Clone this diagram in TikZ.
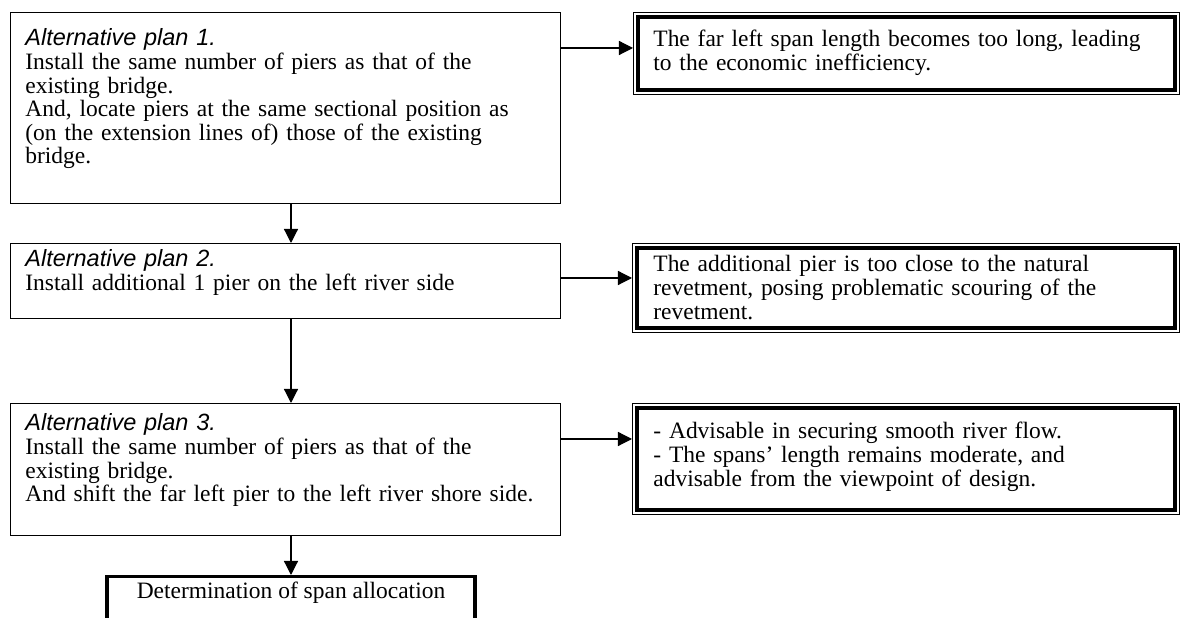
\documentclass[tikz,border=0pt]{standalone}
\usepackage{fontspec}
\setmainfont{Liberation Serif}
\newfontfamily\plansf{Liberation Sans}
\usetikzlibrary{arrows.meta}

\begin{document}
\begin{tikzpicture}[x=0.494pt,y=-0.494pt,line join=miter,>={Triangle[length=7pt,width=7pt]},
  every node/.style={inner sep=0pt,font=\fontsize{11.6pt}{11.65pt}\selectfont},
  planbox/.style={draw,line width=0.6pt,anchor=north west},
  resbox/.style={draw,line width=0.5pt,anchor=north west},
  body/.style={anchor=base west,align=left,text width=#1}]
  \def\u{0.494pt}
  \useasboundingbox (0,0) rectangle (1180,618);
  \clip (0,0) rectangle (1180,618);
  \node[planbox,minimum width={550*\u},minimum height={191*\u}] (p1) at (10,12) {};
  \node[planbox,minimum width={550*\u},minimum height={75*\u}] (p2) at (10,243) {};
  \node[planbox,minimum width={550*\u},minimum height={132*\u}] (p3) at (10,403) {};
  \node[resbox,minimum width={546*\u},minimum height={82*\u}] (rA) at (633,12) {};
  \node[resbox,minimum width={547*\u},minimum height={89*\u}] (rB) at (632,243) {};
  \node[resbox,minimum width={547*\u},minimum height={111*\u}] (rC) at (632,403) {};
  \foreach \r in {rA,rB,rC}
    \draw[line width=1.98pt] ([shift={(5,5)}]\r.north west) rectangle ([shift={(-5,-5)}]\r.south east);
  \node[draw,line width=1.5pt,anchor=north,minimum width={368*\u},text height=9pt,text depth=30pt,inner ysep=1.9pt] (d) at (291,575) {Determination of span allocation};
  \node[body=264pt] (t1) at (25,46) {{\plansf\itshape Alternative plan 1.}\\
    Install the same number of piers as that of the\\
    existing bridge.\\
    And, locate piers at the same sectional position as\\
    (on the extension lines of) those of the existing\\
    bridge.};
  \node[body=264pt] (t2) at (25,267) {{\plansf\itshape Alternative plan 2.}\\
    Install additional 1 pier on the left river side};
  \node[body=264pt] (t3) at (25,431) {{\plansf\itshape Alternative plan 3.}\\
    Install the same number of piers as that of the\\
    existing bridge.\\
    And shift the far left pier to the left river shore side.};
  \node[body=254pt] (tA) at (653,47) {The far left span length becomes too long, leading\\
    to the economic inefficiency.};
  \node[body=254pt] (tB) at (653,272) {The additional pier is too close to the natural\\
    revetment, posing problematic scouring of the\\
    revetment.};
  \node[body=254pt] (tC) at (653,439) {- Advisable in securing smooth river flow.\\
    - The spans’ length remains moderate, and\\
    advisable from the viewpoint of design.};
  \draw[->,line width=0.6pt] (p1.south -| d.north) -- (p2.north -| d.north);
  \draw[->,line width=0.6pt] (p2.south -| d.north) -- (p3.north -| d.north);
  \draw[->,line width=0.6pt] (p3.south -| d.north) -- (d.north);
  \draw[->,line width=0.6pt] (p1.east |- 0,48) -- (rA.west |- 0,48);
  \draw[->,line width=0.6pt] (p2.east |- 0,278) -- (rB.west |- 0,278);
  \draw[->,line width=0.6pt] (p3.east |- 0,439) -- (rC.west |- 0,439);
\end{tikzpicture}
\end{document}
